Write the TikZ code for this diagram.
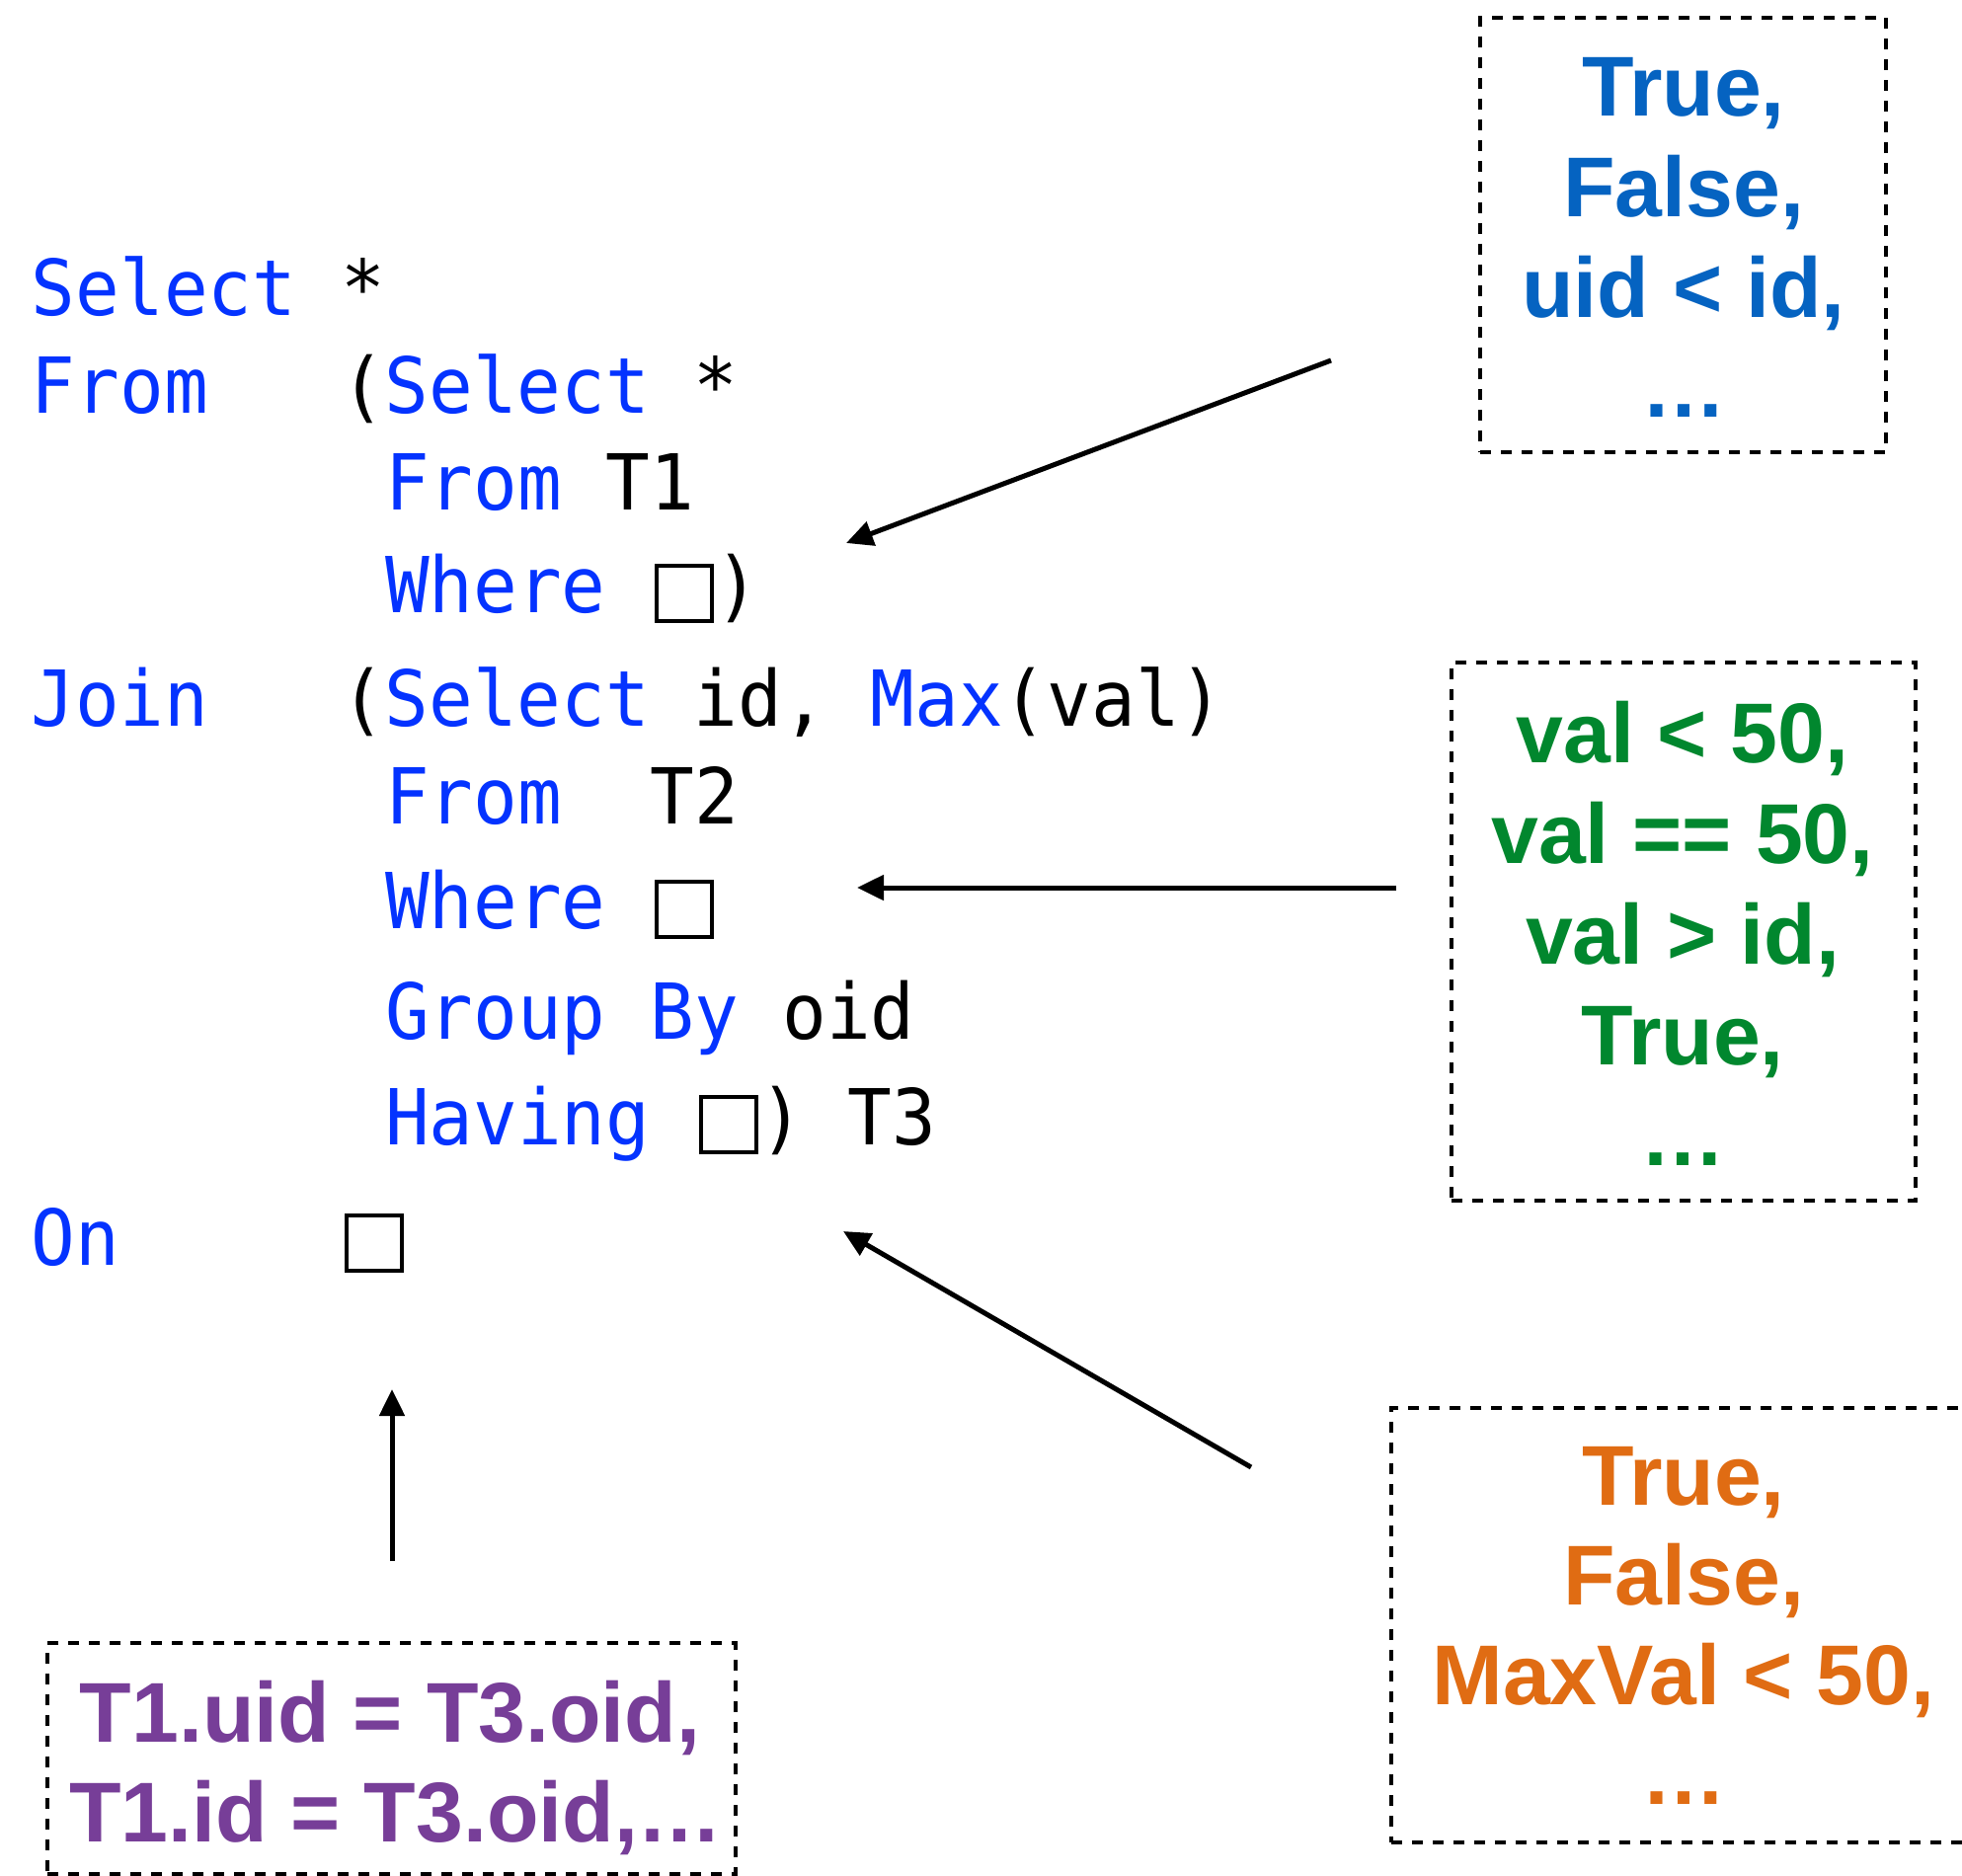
\documentclass[tikz,border=0pt]{standalone}
\usepackage{fontspec}
\usetikzlibrary{arrows.meta}
\newfontfamily\codefont{DejaVu Sans Mono}[FakeStretch=0.95]
\newfontfamily\optfont{Liberation Sans}
\definecolor{kwblue}{RGB}{4,51,255}
\definecolor{optblue}{RGB}{5,99,193}
\definecolor{optgreen}{RGB}{1,135,46}
\definecolor{optorange}{RGB}{224,108,19}
\definecolor{optpurple}{RGB}{119,62,152}
\newcommand\kw[1]{\textcolor{kwblue}{#1}}
\begin{document}
\begin{tikzpicture}[x=0.5pt,y=-0.5pt,
  codeline/.style={anchor=base west, inner sep=0pt, outer sep=0pt,
    font=\codefont\fontsize{39.1pt}{39.1pt}\selectfont},
  hole/.style={draw, line width=2pt, minimum width=28pt, minimum height=28pt,
    inner sep=0pt, outer sep=0pt},
  candbox/.style={draw, line width=2.4pt, dash pattern=on 5.5pt off 5pt,
    inner sep=0pt, outer sep=0pt},
  candtext/.style={anchor=base, inner sep=0pt, outer sep=0pt,
    font=\optfont\bfseries\fontsize{43pt}{43pt}\selectfont},
  pointer/.style={line width=2.5pt, -{Triangle[length=13.5pt,width=12.5pt]}}
]
\clip (0,0) rectangle (1987,1900);
\fill[white] (0,0) rectangle (1987,1900);

% the query sketch
\node[codeline] (l1)  at (32,319)  {\kw{Select}~*};
\node[codeline] (l2)  at (32,418)  {\kw{From}~~~(\kw{Select}~*};
\node[codeline] (l3)  at (390,516) {\kw{From}~T1};
\node[codeline] (l4)  at (390,620) {\kw{Where}~\hspace{33pt})};
\node[codeline] (l5)  at (32,735)  {\kw{Join}~~~(\kw{Select}~id,~\kw{Max}(val)};
\node[codeline] (l6)  at (390,834) {\kw{From}~~T2};
\node[codeline] (l7)  at (390,940) {\kw{Where}};
\node[codeline] (l8)  at (390,1052) {\kw{Group}~\kw{By}~oid};
\node[codeline] (l9)  at (390,1159) {\kw{Having}~\hspace{33pt})~T3};
\node[codeline] (l10) at (32,1281) {\kw{On}};

% holes to be filled
\node[hole] (h1) at (693,601) {};
\node[hole] (h2) at (693,921) {};
\node[hole] (h3) at (737.5,1139) {};
\node[hole] (h4) at (379,1259) {};

% candidate sets for the first Where
\node[candbox, minimum width=205.5pt, minimum height=220pt] (cblue) at (1704.5,238) {};
\node[candtext, text=optblue] (cblue1) at (1705,118) {True,};
\node[candtext, text=optblue] (cblue2) at (1705,220) {False,};
\node[candtext, text=optblue] (cblue3) at (1705,321) {uid < id,};
\node[candtext, text=optblue] (cblue4) at (1705,422) {…};

% candidate sets for the second Where
\node[candbox, minimum width=235pt, minimum height=272.5pt] (cgreen) at (1705,943.5) {};
\node[candtext, text=optgreen] (cgreen1) at (1704,772) {val < 50,};
\node[candtext, text=optgreen] (cgreen2) at (1704,874) {val == 50,};
\node[candtext, text=optgreen] (cgreen3) at (1704,976) {val > id,};
\node[candtext, text=optgreen] (cgreen4) at (1704,1078) {True,};
\node[candtext, text=optgreen] (cgreen5) at (1704,1180) {…};

% candidate sets for Having
\node[candbox, minimum width=296pt, minimum height=220pt] (corange) at (1705,1646) {};
\node[candtext, text=optorange] (corange1) at (1705,1524) {True,};
\node[candtext, text=optorange] (corange2) at (1705,1625) {False,};
\node[candtext, text=optorange] (corange3) at (1705,1726) {MaxVal < 50,};
\node[candtext, text=optorange] (corange4) at (1705,1827) {…};

% candidate sets for On
\node[candbox, minimum width=348.5pt, minimum height=117pt] (cpurple) at (396.5,1781) {};
\node[candtext, text=optpurple] (cpurple1) at (395,1764) {T1.uid = T3.oid,};
\node[candtext, text=optpurple] (cpurple2) at (401,1865) {T1.id = T3.oid,…};

% pointers from the candidate sets to the holes
\coordinate (p1s) at (1348,365);  \coordinate (p1e) at (857,550);
\coordinate (p2s) at (1414,899);  \coordinate (p2e) at (868,899);
\coordinate (p3s) at (1267,1486); \coordinate (p3e) at (854,1247);
\coordinate (p4s) at (397,1581);  \coordinate (p4e) at (397,1407);
\draw[pointer] (p1s) -- (p1e);
\draw[pointer] (p2s) -- (p2e);
\draw[pointer] (p3s) -- (p3e);
\draw[pointer] (p4s) -- (p4e);
\end{tikzpicture}
\end{document}
